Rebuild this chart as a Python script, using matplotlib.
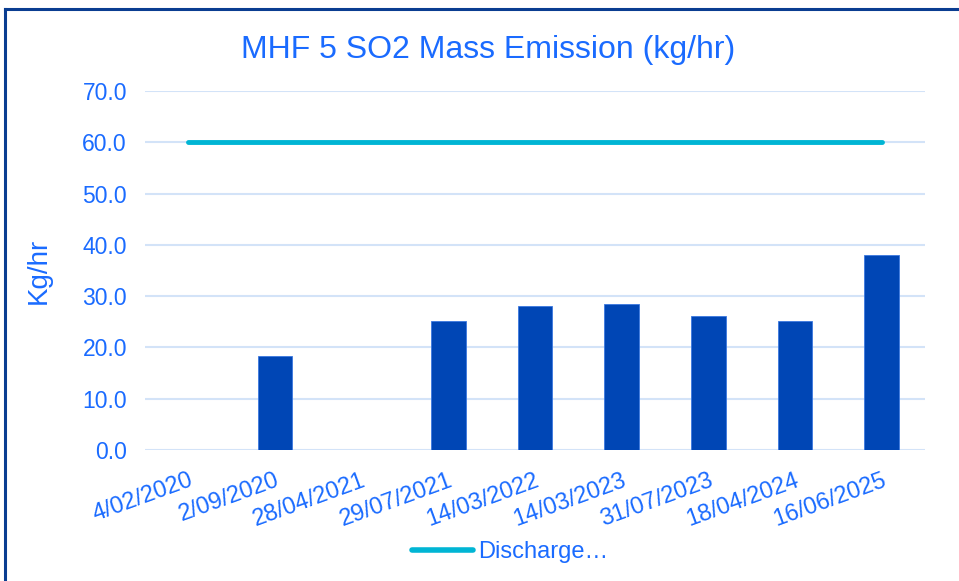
import matplotlib
matplotlib.use("Agg")
import matplotlib.pyplot as plt
from matplotlib.lines import Line2D
import numpy as np

categories = ["4/02/2020", "2/09/2020", "28/04/2021", "29/07/2021", "14/03/2022",
              "14/03/2023", "31/07/2023", "18/04/2024", "16/06/2025"]
emission = [np.nan, 18.4, np.nan, 25.1, 28.1, 28.4, 26.1, 25.1, 38.0]
discharge_limit = [60.0] * 9
y_ticks = [0, 10, 20, 30, 40, 50, 60, 70]

plt.rcParams['font.family'] = ['Liberation Sans', 'DejaVu Sans']
TXT = "#1a6bff"

fig = plt.figure(figsize=(9.59, 5.81), dpi=100)
ax = fig.add_axes([145/959, 1-450/581, 780/959, 359/581])

x = np.arange(len(categories))
ax.bar(x, emission, width=0.4, color="#0046b5", edgecolor="#3a78e0", linewidth=0.6, zorder=3)
ax.plot(x, discharge_limit, color="#00b5d4", linewidth=3.5, solid_capstyle='round', zorder=4,
        label="Discharge…")

ax.set_xlim(-0.5, len(categories) - 0.5)
ax.set_ylim(0, 70)
ax.set_yticks(y_ticks)
ax.set_yticklabels([f"{v:.1f}" for v in y_ticks], color=TXT, fontsize=16.5)
ax.set_xticks(x)
ax.set_xticklabels(categories, rotation=20, ha='right', rotation_mode='anchor',
                   color=TXT, fontsize=17)
ax.tick_params(axis='y', length=0, pad=13)
ax.tick_params(axis='x', length=0, pad=14)
ax.grid(axis='y', color="#d3e3f8", linewidth=1.5, zorder=0)
for s in ax.spines.values():
    s.set_visible(False)
ax.set_ylabel("Kg/hr", color=TXT, fontsize=20, labelpad=22)

fig.text(488/959, 1-50/581, "MHF 5 SO2 Mass Emission (kg/hr)", color=TXT, fontsize=23,
         ha='center', va='center')

fig.legend(handles=[Line2D([0], [0], color="#00b5d4", linewidth=4, solid_capstyle='round')],
           labels=["Discharge…"], loc='center', bbox_to_anchor=(510/959, 1-552/581),
           frameon=False, fontsize=17, labelcolor=TXT, handlelength=2.6, handletextpad=0.2)

fig.add_artist(Line2D([5/959, 5/959], [0, 1-9/581], color="#0a3d91", linewidth=2.2,
                      transform=fig.transFigure))
fig.add_artist(Line2D([5/959, 1], [1-9/581, 1-9/581], color="#0a3d91", linewidth=2.2,
                      transform=fig.transFigure))

fig.savefig("out.png", dpi=100, facecolor="white")
